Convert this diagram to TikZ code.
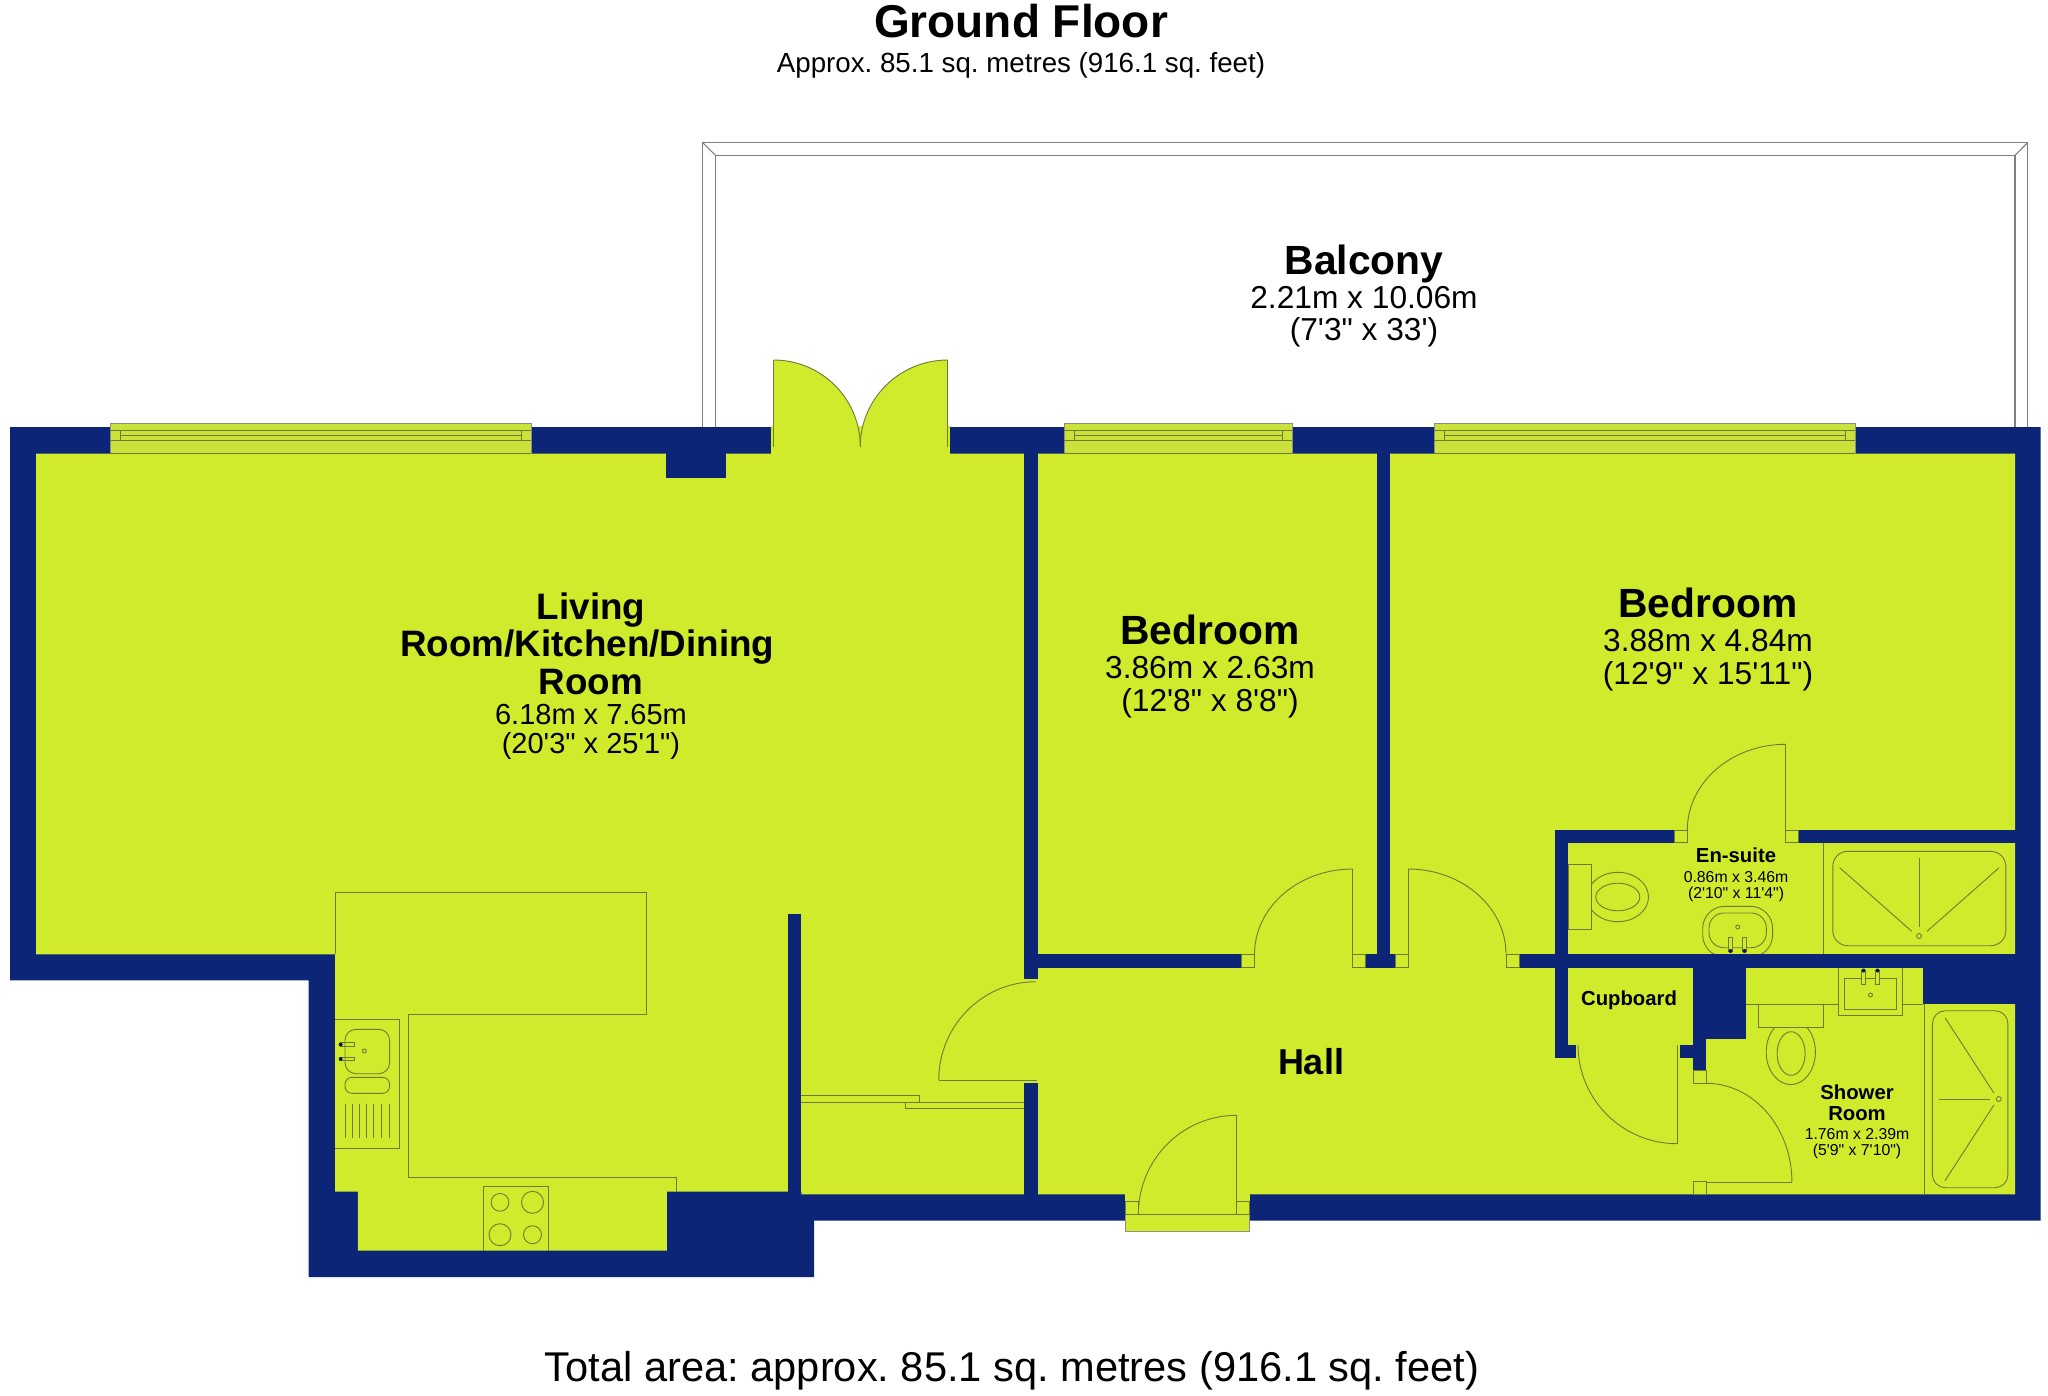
\documentclass[tikz,border=0pt]{standalone}
\usepackage{fontspec}
\setmainfont{Liberation Sans}[Ligatures=TeXOff]
\frenchspacing
\definecolor{wallblue}{HTML}{0C2577}
\definecolor{floorgreen}{HTML}{D0EA2C}
\definecolor{glassgreen}{HTML}{CBE23A}
\definecolor{fixline}{HTML}{6E7A35}
\tikzset{
	wall/.style={fill=wallblue},
	floorfill/.style={fill=floorgreen},
	fixture/.style={draw=fixline, line width=0.9pt},
	jamb/.style={draw=fixline, fill=floorgreen, line width=0.9pt},
	balconyline/.style={draw=black!50, line width=1.1pt},
	biglabel/.style={align=center, inner sep=0pt, font=\fontsize{31.7}{34}\selectfont},
	midlabel/.style={align=center, inner sep=0pt, font=\fontsize{29}{37}\selectfont},
	tinylabel/.style={align=center, inner sep=0pt, font=\fontsize{15.8}{20.6}\selectfont},
	tapdot/.style={fill=wallblue!70!black}
}
\newcommand{\bigtitle}{\fontsize{40.8}{34}\selectfont\bfseries}
\newcommand{\midtitle}{\fontsize{36.8}{37}\selectfont\bfseries}
\newcommand{\tinytitle}{\fontsize{20.3}{20.6}\selectfont\bfseries}
\def\doorarc[#1](#2)(#3:#4:#5:#6){\draw[#1] (#2) arc[start angle=#3, end angle=#4, x radius=#5pt, y radius=#6pt];}
\def\windowunit(#1:#2){
	\fill[glassgreen] (#1, 423.3) rectangle (#2, 453.5);
	\draw[draw=black!45, line width=1pt] (#1, 453.5) -- (#1, 423.3) -- (#2, 423.3) -- (#2, 453.5);
	\draw[fixture] (#1, 430.3) -- (#2, 430.3);
	\draw[fixture] (#1, 440.7) -- (#2, 440.7);
	\draw[fixture] (#1, 453.5) -- (#2, 453.5);
	\draw[fixture] (#1+10, 435.3) -- (#2-10, 435.3);
	\draw[fixture] (#1+10, 430.3) -- (#1+10, 440.7);
	\draw[fixture] (#2-10, 430.3) -- (#2-10, 440.7);
}

\begin{document}
\begin{tikzpicture}[x=1pt, y=-1pt]
		%%%%% START %%%%%
		\useasboundingbox (0, 0) rectangle (2048, 1395);
		
		% balcony
		\draw[balconyline] (702.5, 427) -- (702.5, 142.5) -- (2027.7, 142.5) -- (2027.7, 427);
		\draw[balconyline] (715.5, 427) -- (715.5, 155.3) -- (2015, 155.3) -- (2015, 427);
		\draw[balconyline] (702.5, 142.5) -- (715.5, 155.3);
		\draw[balconyline] (2027.7, 142.5) -- (2015, 155.3);
		
		% outer walls and floor
		\fill[wall] (10, 427) -- (2040.7, 427) -- (2040.7, 1220.5) -- (814, 1220.5) -- (814, 1277) -- (308.6, 1277) -- (308.6, 980.3) -- (10, 980.3) -- cycle;
		\fill[floorfill] (36, 453.5) -- (2015, 453.5) -- (2015, 1194.3) -- (801.4, 1194.3) -- (801.4, 1191.7) -- (666.8, 1191.7) -- (666.8, 1250.7) -- (357.9, 1250.7) -- (357.9, 1191.7) -- (335, 1191.7) -- (335, 954.3) -- (36, 954.3) -- cycle;
		
		% kitchen units
		\draw[fixture] (335, 954.3) -- (335, 892.3) -- (646.4, 892.3) -- (646.4, 1014.3) -- (408.2, 1014.3) -- (408.2, 1177) -- (676.8, 1177) -- (676.8, 1191.7);
		\draw[fixture] (335, 1019) -- (399.6, 1019) -- (399.6, 1148.7) -- (335, 1148.7);
		\draw[fixture, rounded corners=11pt] (345, 1029.3) rectangle (389.6, 1073.7);
		\draw[fixture, rounded corners=7pt] (345, 1077.3) rectangle (389.6, 1093.3);
		\draw[fixture] (345, 1103.7) -- (345, 1138.3);
		\draw[fixture] (352.1, 1103.7) -- (352.1, 1138.3);
		\draw[fixture] (359.3, 1103.7) -- (359.3, 1138.3);
		\draw[fixture] (366.8, 1103.7) -- (366.8, 1138.3);
		\draw[fixture] (373.9, 1103.7) -- (373.9, 1138.3);
		\draw[fixture] (381.1, 1103.7) -- (381.1, 1138.3);
		\draw[fixture] (389.6, 1103.7) -- (389.6, 1138.3);
		\draw[fixture] (340, 1042.7) rectangle (354.6, 1046.3);
		\draw[fixture] (340, 1057) rectangle (354.6, 1060.7);
		\fill[tapdot] (340.7, 1044.5) circle (2);
		\fill[tapdot] (340.7, 1059) circle (2);
		\draw[fixture] (364.3, 1051) circle (2);
		\draw[fixture] (483.6, 1250.7) -- (483.6, 1186.3) -- (548.6, 1186.3) -- (548.6, 1250.7);
		\draw[fixture] (500, 1202.3) circle (8.9);
		\draw[fixture] (532.5, 1202.3) circle (11);
		\draw[fixture] (500, 1234.7) circle (11);
		\draw[fixture] (532.5, 1234.7) circle (9);
		
		% en-suite fittings
		\draw[fixture] (1617.8, 897) ellipse[x radius=30.7, y radius=24.7];
		\draw[fixture, fill=floorgreen] (1568.2, 864.3) rectangle (1591.6, 929.3);
		\draw[fixture] (1617.8, 897) ellipse[x radius=22, y radius=13.8];
		\draw[fixture, rounded corners=22pt] (1702.7, 906.3) rectangle (1772.6, 957);
		\draw[fixture, rounded corners=15pt] (1709, 913) rectangle (1766.3, 947.7);
		\draw[fixture, fill=floorgreen] (1728.2, 937.7) rectangle (1732.8, 951.7);
		\draw[fixture, fill=floorgreen] (1742.2, 937.7) rectangle (1746.8, 951.7);
		\fill[tapdot] (1730.5, 951) circle (2);
		\fill[tapdot] (1744.5, 951) circle (2);
		\draw[fixture] (1737.7, 927) circle (2);
		\draw[fixture] (1823.3, 842.7) -- (1823.3, 954.3);
		\draw[fixture, rounded corners=15pt] (1832.8, 851.3) rectangle (2005.8, 945.7);
		\draw[fixture] (1839.7, 867.7) -- (1911.7, 931.3);
		\draw[fixture] (1999.1, 867.7) -- (1927, 931.3);
		\draw[fixture] (1919, 858.3) -- (1919, 926.7);
		\draw[fixture] (1919, 936) circle (2.5);
		
		% shower room fittings
		\draw[fixture] (1746, 1004) -- (1838.3, 1004);
		\draw[fixture] (1902.7, 1004) -- (1923.3, 1004);
		\draw[fixture] (1838.3, 967.7) rectangle (1902.7, 1015.3);
		\draw[fixture] (1844.3, 978.7) rectangle (1896.7, 1009);
		\draw[fixture, fill=floorgreen] (1861.4, 970.7) rectangle (1865.6, 984.3);
		\draw[fixture, fill=floorgreen] (1875.4, 970.7) rectangle (1879.6, 984.3);
		\fill[tapdot] (1863.5, 970.5) circle (2);
		\fill[tapdot] (1877.5, 970.5) circle (2);
		\draw[fixture] (1870.5, 995) circle (2);
		\draw[fixture] (1790.8, 1052) ellipse[x radius=24.6, y radius=32.6];
		\draw[fixture, fill=floorgreen] (1758.7, 1004) rectangle (1823.3, 1027.3);
		\draw[fixture] (1791.1, 1053.5) ellipse[x radius=14, y radius=21.8];
		\draw[fixture] (1924.3, 1004) -- (1924.3, 1194.3);
		\draw[fixture, rounded corners=13pt] (1932.4, 1010.7) rectangle (2007.9, 1187.7);
		\draw[fixture] (1945, 1017.7) -- (1993.9, 1093);
		\draw[fixture] (1945, 1180.7) -- (1993.9, 1105);
		\draw[fixture] (1938.7, 1099) -- (1990, 1099);
		\draw[fixture] (1998.8, 1099) circle (2.5);
		
		% inner walls
		\fill[wall] (665.5, 453) rectangle (725.9, 478);
		\fill[wall] (1024, 453) rectangle (1037.5, 979);
		\fill[wall] (1024, 1083.3) rectangle (1037.5, 1195);
		\fill[wall] (1376.8, 453) rectangle (1390.2, 955);
		\fill[wall] (1037, 954.3) rectangle (1241.5, 967.5);
		\fill[wall] (1365.6, 954.3) rectangle (1395.5, 967.5);
		\fill[wall] (1519.6, 954.3) rectangle (2015.5, 967.5);
		\fill[wall] (1554.9, 830) rectangle (1674.4, 842.7);
		\fill[wall] (1798.5, 830) rectangle (2015.5, 842.7);
		\fill[wall] (1554.9, 830) rectangle (1568.2, 1058.3);
		\fill[wall] (1554.9, 1045) rectangle (1575.8, 1058.3);
		\fill[wall] (1680, 1045) rectangle (1693, 1058.3);
		\fill[wall] (1693, 967) rectangle (1706.2, 1070.7);
		\fill[wall] (1706, 967) rectangle (1746, 1039);
		\fill[wall] (1923.3, 967) rectangle (2015.5, 1004);
		\fill[wall] (787.9, 914.3) rectangle (801.4, 1195);
		
		% windows
		\windowunit(110.4:531.4)
		\windowunit(1064.3:1292.4)
		\windowunit(1434:1855)
		
		% balcony doors
		\fill[floorfill] (771, 426) rectangle (950, 454);
		\fill[floorfill] (773.7, 447) -- (773.7, 360) arc[start angle=90, end angle=0, x radius=86.6pt, y radius=86.7pt] arc[start angle=180, end angle=90, x radius=87.5pt, y radius=86.7pt] -- (947.8, 447) -- cycle;
		\doorarc[fixture](773.7, 360)(90:0:86.6:86.7)
		\doorarc[fixture](860.3, 446.7)(180:90:87.5:86.7)
		\draw[fixture] (773.7, 360) -- (773.7, 446.7);
		\draw[fixture] (947.8, 360) -- (947.8, 446.7);
		
		% bedroom doors
		\draw[jamb] (1241.5, 954.3) rectangle (1254.5, 967.5);
		\draw[jamb] (1352.7, 954.3) rectangle (1365.6, 967.5);
		\draw[jamb] (1395.5, 954.3) rectangle (1408, 967.5);
		\draw[jamb] (1506, 954.3) rectangle (1519.6, 967.5);
		\doorarc[fixture](1254.5, 954.3)(180:90:98.2:85.3)
		\draw[fixture] (1352.7, 869) -- (1352.7, 954.3);
		\doorarc[fixture](1408, 869)(90:0:98:85.3)
		\draw[fixture] (1408, 869) -- (1408, 954.3);
		
		% en-suite door
		\draw[jamb] (1674.4, 830) rectangle (1687.3, 842.7);
		\draw[jamb] (1785.6, 830) rectangle (1798.5, 842.7);
		\doorarc[fixture](1687.3, 830)(180:90:98.3:85.7)
		\draw[fixture] (1785.6, 744.3) -- (1785.6, 830);
		
		% cupboard door and shower room door
		\doorarc[fixture](1578, 1045)(180:270:99.2:98.7)
		\draw[fixture] (1677.2, 1045) -- (1677.2, 1143.7);
		\draw[jamb] (1693, 1070.7) rectangle (1706.2, 1083.3);
		\draw[jamb] (1693, 1181.7) rectangle (1706.2, 1194.3);
		\doorarc[fixture](1706.2, 1083.3)(90:0:85.7:98.7)
		\draw[fixture] (1706.2, 1182) -- (1791.9, 1182);
		
		% kitchen door and sliding door
		\doorarc[fixture](1036, 981.7)(90:180:97.2:98.3)
		\draw[fixture] (938.8, 1080) -- (1037, 1080);
		\draw[fixture] (801.4, 1095.3) -- (919.6, 1095.3) -- (919.6, 1102) -- (801.4, 1102);
		\draw[fixture] (905.8, 1102) -- (1024, 1102);
		\draw[fixture] (905.8, 1102) -- (905.8, 1108.3) -- (1024, 1108.3);
		
		% entrance door
		\fill[floorfill] (1125.4, 1194) rectangle (1249.5, 1231.3);
		\draw[draw=black!45, line width=1pt] (1125.4, 1214) -- (1125.4, 1231.3) -- (1249.5, 1231.3) -- (1249.5, 1214);
		\draw[jamb] (1125.4, 1201) rectangle (1138.4, 1214);
		\draw[jamb] (1236.6, 1201) rectangle (1249.5, 1214);
		\draw[fixture] (1125.4, 1214) -- (1249.5, 1214);
		\doorarc[fixture](1138.4, 1214)(180:90:98.2:98.7)
		\draw[fixture] (1236.6, 1115.3) -- (1236.6, 1214);
		
		% labels
		\node[biglabel] (groundtitle) at (1021, 21) {\fontsize{46}{46}\selectfont\bfseries Ground Floor};
		\node[biglabel] (groundarea) at (1021, 65) {\fontsize{27.7}{27}\selectfont Approx. 85.1 sq. metres (916.1 sq. feet)};
		\node[biglabel] (balcony) at (1364, 295.8) {{\bigtitle Balcony}\\2.21m x 10.06m\\[-1.5pt](7'3" x 33')};
		\node[midlabel] (living) at (591, 676.3) {{\midtitle Living}\\{\midtitle Room/Kitchen/Dining\kern7.5pt}\\[1pt]{\midtitle Room}\\[-7pt]6.18m x 7.65m\\[-8.3pt](20'3" x 25'1")};
		\node[biglabel] (bedroomone) at (1210, 666.3) {{\bigtitle Bedroom}\\3.86m x 2.63m\\[-1.5pt](12'8" x 8'8")};
		\node[biglabel] (bedroomtwo) at (1708, 639.3) {{\bigtitle Bedroom}\\3.88m x 4.84m\\[-1.5pt](12'9" x 15'11")};
		\node[biglabel] (hall) at (1311, 1062) {\fontsize{36}{36}\selectfont\bfseries Hall};
		\node[tinylabel] (ensuite) at (1736, 874.8) {{\tinytitle En-suite}\\[-1.5pt]0.86m x 3.46m\\[-4.5pt](2'10" x 11'4")};
		\node[tinylabel] (cupboard) at (1629, 1000) {\tinytitle Cupboard};
		\node[tinylabel] (shower) at (1857, 1122) {{\tinytitle Shower}\\{\tinytitle Room}\\[-1.7pt]1.76m x 2.39m\\[-4.4pt](5'9" x 7'10")};
		\node[biglabel] (totalarea) at (1012, 1371) {\fontsize{41.6}{40}\selectfont Total area: approx. 85.1 sq. metres (916.1 sq. feet)};
		
		%%%%% END %%%%%
\end{tikzpicture}
\end{document}
